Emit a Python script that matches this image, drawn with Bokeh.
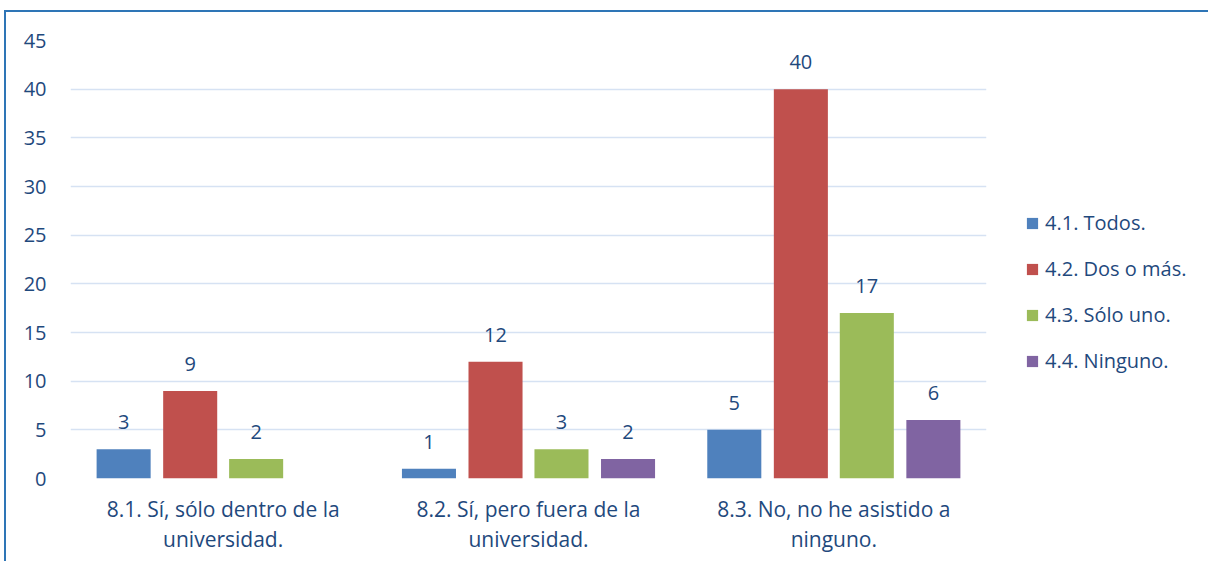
from bokeh.plotting import figure
from bokeh.models import ColumnDataSource, Range1d, Legend, LegendItem, SingleIntervalTicker
from bokeh.transform import dodge
from bokeh.core.properties import value
from bokeh.embed import file_html
from bokeh.resources import INLINE

categories = ["8.1. Sí, sólo dentro de la\nuniversidad.",
              "8.2. Sí, pero fuera de la\nuniversidad.",
              "8.3. No, no he asistido a\nninguno."]
series_names = ["4.1. Todos.", "4.2. Dos o más.", "4.3. Sólo uno.", "4.4. Ninguno."]
todos = [3, 1, 5]
dos_o_mas = [9, 12, 40]
solo_uno = [2, 3, 17]
ninguno = [0, 2, 6]
colors = ["#4F81BD", "#C0504D", "#9BBB59", "#8064A2"]
offsets = [-0.326, -0.108, 0.108, 0.326]

FONT = "Open Sans"
TXT = "#1F497D"

p = figure(x_range=categories, y_range=Range1d(0, 45), frame_width=916, frame_height=438,
           output_backend="svg", toolbar_location=None,
           min_border_left=64, min_border_right=10, min_border_top=28, min_border_bottom=83)
p.outline_line_color = None
p.styles = {"border-top": "2px solid #2E75B6", "border-left": "2px solid #2E75B6",
            "margin-left": "4px", "margin-top": "10px"}

items = []
for name, vals, col, off in zip(series_names, [todos, dos_o_mas, solo_uno, ninguno], colors, offsets):
    src = ColumnDataSource(dict(cat=categories, v=vals,
                                lab=[str(v) if v else "" for v in vals]))
    r = p.vbar(x=dodge("cat", off, range=p.x_range), top="v", width=0.177, source=src,
               fill_color=col, line_color=None)
    p.text(x=dodge("cat", off, range=p.x_range), y="v", text="lab", source=src,
           text_align="center", text_baseline="bottom", y_offset=-20,
           text_font=value(FONT), text_font_size="20px", text_color=TXT)
    items.append(LegendItem(label=name, renderers=[r]))

legend = Legend(items=items, location=(39, 104), padding=0, margin=0,
                glyph_width=14, glyph_height=14, label_height=20, spacing=19,
                label_standoff=6, label_text_font=FONT, label_text_font_size="20px",
                label_text_color=TXT, border_line_color=None, background_fill_alpha=0)
p.add_layout(legend, "right")

p.xgrid.grid_line_color = None
p.ygrid.grid_line_color = "#D6E2F3"
p.ygrid.grid_line_width = 1.5
p.yaxis.ticker = SingleIntervalTicker(interval=5)
for ax in (p.xaxis, p.yaxis):
    ax.axis_line_color = None
    ax.major_tick_line_color = None
    ax.minor_tick_line_color = None
    ax.major_label_text_font = FONT
    ax.major_label_text_font_size = "20px"
    ax.major_label_text_color = TXT
p.yaxis.major_label_standoff = 18
p.xaxis.major_label_standoff = 10
p.xaxis.major_label_text_font_size = "21px"
p.xaxis.major_label_text_line_height = 1.1

open("out.html", "w").write(file_html(p, INLINE))
